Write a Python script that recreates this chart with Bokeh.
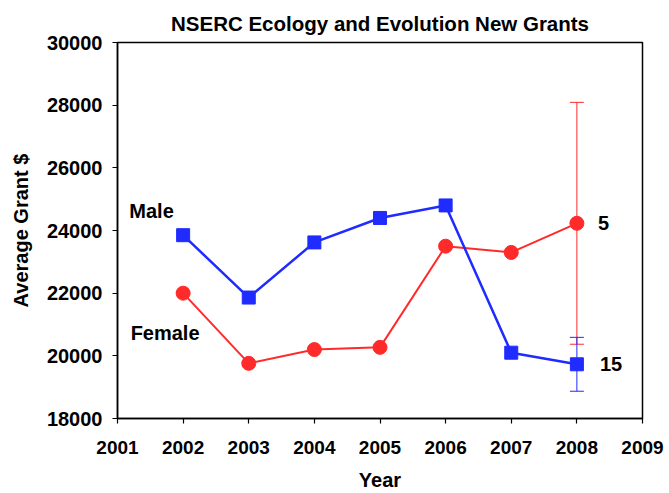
from bokeh.plotting import figure
from bokeh.models import (ColumnDataSource, Whisker, TeeHead, Label, FixedTicker,
                          Range1d)
from bokeh.embed import file_html
from bokeh.resources import INLINE

# ---- data ----
years = [2002, 2003, 2004, 2005, 2006, 2007, 2008]
male = [23850, 21860, 23620, 24400, 24800, 20100, 19730]
female = [22000, 19760, 20200, 20270, 23500, 23300, 24230]
err_year = [2008]
male_err = [860]
female_err = [3860]
male_count = "15"
female_count = "5"
x_ticks = [2001, 2002, 2003, 2004, 2005, 2006, 2007, 2008, 2009]
y_ticks = [18000, 20000, 22000, 24000, 26000, 28000, 30000]

FONT = "Liberation Sans"
BLUE = "#1f2bff"
RED = "#ff2a2a"

p = figure(width=669, height=493, output_backend="svg", toolbar_location=None,
           x_range=Range1d(2001, 2009), y_range=Range1d(18000, 30000),
           min_border_left=117, min_border_right=27, min_border_top=42,
           min_border_bottom=75)
p.background_fill_color = "white"
p.border_fill_color = "white"
p.outline_line_color = "black"
p.outline_line_width = 1.5
p.grid.visible = False

p.title.text = "NSERC Ecology and Evolution New Grants"
p.title.text_font = FONT
p.title.text_font_size = "20.5px"
p.title.text_font_style = "bold"
p.title.text_color = "black"
p.title.align = "center"
p.title.standoff = 15

for ax in (p.xaxis[0], p.yaxis[0]):
    ax.axis_line_color = "black"
    ax.axis_line_width = 1.5
    ax.major_tick_line_color = "black"
    ax.major_tick_line_width = 1.2
    ax.major_tick_in = 0
    ax.major_tick_out = 5
    ax.minor_tick_line_color = None
    ax.major_label_text_font = FONT
    ax.major_label_text_font_style = "bold"
    ax.major_label_text_color = "black"
    ax.axis_label_text_font = FONT
    ax.axis_label_text_font_style = "bold"
    ax.axis_label_text_font_size = "20px"
    ax.axis_label_text_color = "black"

p.xaxis.major_label_text_font_size = "19px"
p.yaxis.major_label_text_font_size = "20px"
p.xaxis.ticker = FixedTicker(ticks=x_ticks)
p.yaxis.ticker = FixedTicker(ticks=y_ticks)
p.xaxis.axis_label = "Year"
p.yaxis.axis_label = "Average Grant $"
p.xaxis.major_label_standoff = 17
p.yaxis.major_label_standoff = 10
p.xaxis.axis_label_standoff = 12
p.yaxis.axis_label_standoff = 12

# error bars
esrc = ColumnDataSource(dict(
    x=err_year,
    m_lo=[m - e for m, e in zip(male[-1:], male_err)],
    m_hi=[m + e for m, e in zip(male[-1:], male_err)],
    f_lo=[f - e for f, e in zip(female[-1:], female_err)],
    f_hi=[f + e for f, e in zip(female[-1:], female_err)],
))
p.add_layout(Whisker(source=esrc, base="x", lower="f_lo", upper="f_hi",
                     line_color=RED, line_width=1,
                     upper_head=TeeHead(size=14, line_color=RED, line_width=1),
                     lower_head=TeeHead(size=14, line_color=RED, line_width=1)))
p.add_layout(Whisker(source=esrc, base="x", lower="m_lo", upper="m_hi",
                     line_color=BLUE, line_width=1,
                     upper_head=TeeHead(size=14, line_color=BLUE, line_width=1),
                     lower_head=TeeHead(size=14, line_color=BLUE, line_width=1)))

# series
p.line(years, female, line_color=RED, line_width=2)
p.scatter(years, female, marker="circle", size=14, fill_color=RED, line_color=RED)
p.line(years, male, line_color=BLUE, line_width=2.5)
p.scatter(years, male, marker="square", size=13, fill_color=BLUE, line_color=BLUE)

def lab(x, y, text, xoff=0):
    p.add_layout(Label(x=x, y=y, x_offset=xoff, text=text, text_font=FONT,
                       text_font_style="bold", text_font_size="20px",
                       text_color="black", text_baseline="middle",
                       text_align="left"))

lab(2001.18, 24620, "Male")
lab(2001.2, 20720, "Female")
lab(err_year[0], female[-1], female_count, 21)
lab(err_year[0], male[-1], male_count, 23)

open("out.html", "w").write(file_html(p, INLINE))
